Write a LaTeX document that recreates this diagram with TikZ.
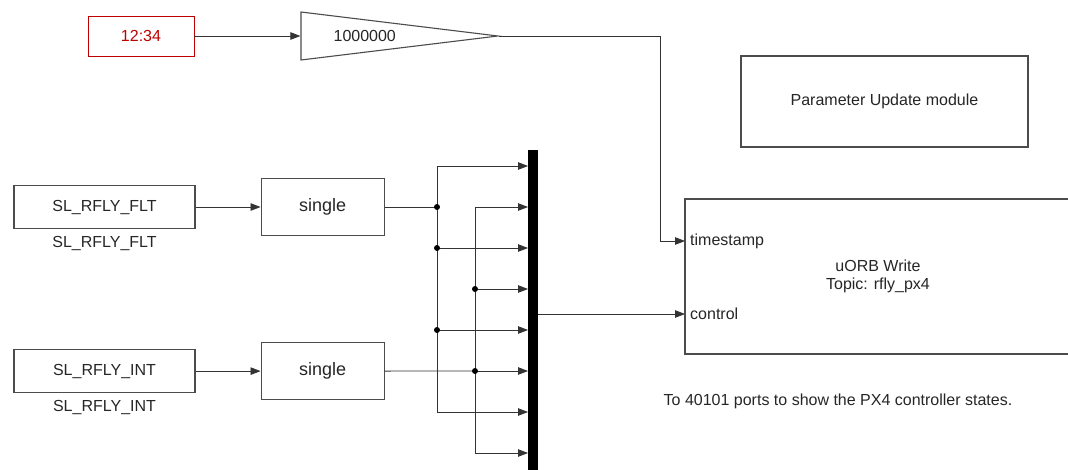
\documentclass[tikz,border=0pt]{standalone}
\usepackage{fontspec}
\setmainfont{Liberation Sans}
\usetikzlibrary{shapes.geometric, positioning, arrows.meta}
\newcommand{\blockfont}{\fontsize{16}{18}\selectfont}
\newcommand{\bigfont}{\fontsize{18}{21}\selectfont}
\tikzset{
    block/.style={rectangle, draw=black!70, line width=1.1pt, fill=white, text=black!85, text centered, inner sep=2pt, font=\blockfont},
    gainblock/.style={isosceles triangle, isosceles triangle stretches, draw=black!70, line width=1.1pt, fill=white, minimum width=48pt, minimum height=197pt, inner sep=0pt},
    muxbar/.style={rectangle, fill=black, draw=none, minimum width=10pt, minimum height=325pt, inner sep=0pt},
    caption/.style={text=black!85, inner sep=0pt, font=\blockfont},
    arrow/.style={line width=0.8pt, draw=black!80, -{Triangle[length=10pt, width=7.5pt]}},
    wire/.style={line width=0.8pt, draw=black!80},
    junction/.style={circle, fill=black, inner sep=0pt, minimum size=6pt}
}

\begin{document}
\begin{tikzpicture}[x=1pt, y=-1pt]
        \useasboundingbox (0,0) rectangle (1068,469);

        \node (clock) [block, line width=0.8pt, draw=red!75!black, text=red!75!black, minimum width=106pt, minimum height=40pt] at (141,36) {12:34};
        \node (gain) [gainblock, right=106pt of clock, label={[caption, anchor=west, xshift=33pt]west:1000000}] {};

        \node (flt) [block, minimum width=181pt, minimum height=43pt] at (104.5,207) {SL\_RFLY\_FLT};
        \node (fltname) [caption, below=7pt of flt] {SL\_RFLY\_FLT};
        \node (single1) [block, font=\bigfont, minimum width=123pt, minimum height=57pt, right=65pt of flt] {single};
        \node (single2) [block, font=\bigfont, minimum width=123pt, minimum height=57pt, below=106pt of single1] {single};
        \node (int) [block, minimum width=181pt, minimum height=43pt, left=65pt of single2] {SL\_RFLY\_INT};
        \node (intname) [caption, below=7pt of int] {SL\_RFLY\_INT};

        \node (mux) [muxbar] at (533,312.5) {};
        \foreach \i in {1,...,8}
            \coordinate (in\i) at (528,125+41*\i);

        \node (param) [block, minimum width=287pt, minimum height=91pt] at (884.5,101.5) {Parameter Update module};
        \node (uorb) [block, align=center, minimum width=386pt, minimum height=155pt] at (878,276.5) {uORB Write\\Topic: rfly\_px4};
        \coordinate (ts) at (685,241);
        \coordinate (ctl) at (685,314);
        \node (tslabel) [caption, anchor=west] at ([xshift=5pt]ts) {timestamp};
        \node (ctllabel) [caption, anchor=west] at ([xshift=5pt]ctl) {control};
        \node (note) [caption] at (838,401) {To 40101 ports to show the PX4 controller states.};

        \coordinate (bend) at (660,241);
        \coordinate (j1) at (437,207);
        \coordinate (j2) at (475,371);

        \draw [arrow] (clock) -- (gain);
        \draw [arrow] (gain.apex) -| (bend) -- (ts);
        \draw [arrow] (flt) -- (single1);
        \draw [arrow] (int) -- (single2);

        \draw [wire] (single1.east) -- (j1);
        \draw [wire] (in1 -| j1) -- (in7 -| j1);
        \foreach \i in {1,3,5,7}
            \draw [arrow] (in\i -| j1) -- (in\i);
        \draw [wire] (single2.east) -- (j2);
        \draw [wire] (in2 -| j2) -- (in8 -| j2);
        \foreach \i in {2,4,6,8}
            \draw [arrow] (in\i -| j2) -- (in\i);
        \node [junction] at (j1) {};
        \node [junction] at (in3 -| j1) {};
        \node [junction] at (in5 -| j1) {};
        \node [junction] at (in4 -| j2) {};
        \node [junction] at (j2) {};

        \draw [arrow] (mux.east |- ctl) -- (ctl);
    \end{tikzpicture}
\end{document}
